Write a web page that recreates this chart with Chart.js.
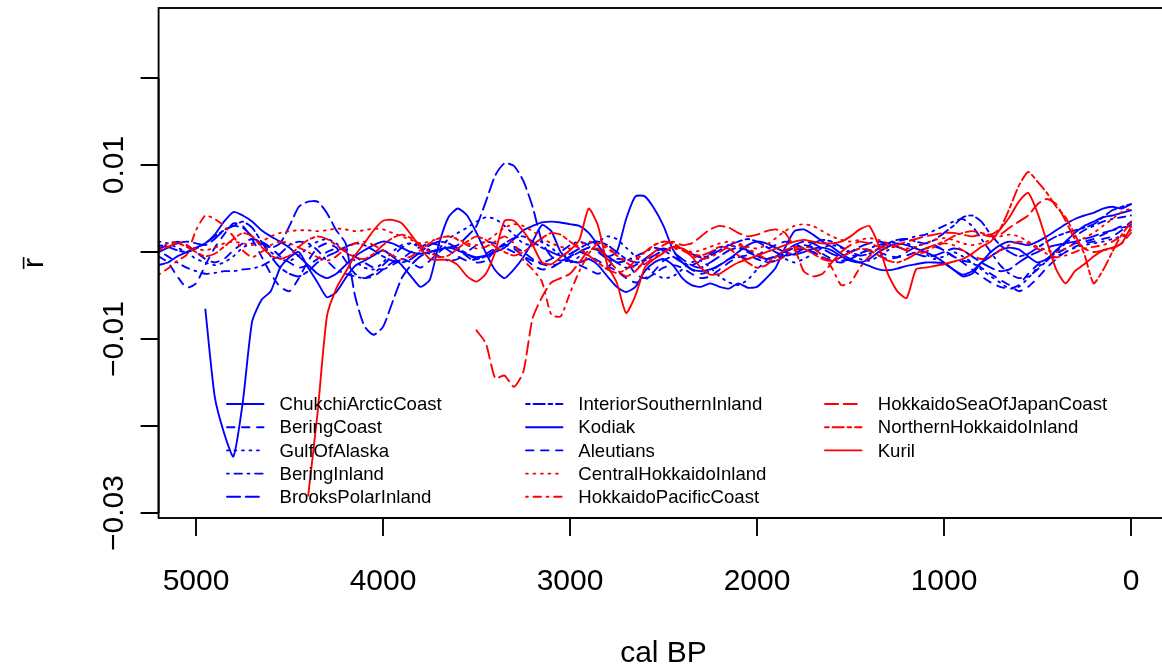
<!DOCTYPE html>
<html><head><meta charset="utf-8">
<script src="https://cdn.jsdelivr.net/npm/chart.js@4.4.1/dist/chart.umd.min.js"></script>
<style>
html,body{margin:0;padding:0;background:#fff;overflow:hidden;width:1162px;height:670px;}
#wrap{position:relative;width:1180px;height:670px;}
canvas{display:block;}
</style></head><body>
<div id="wrap"><canvas id="c" width="1180" height="670"></canvas></div>
<script>
// ---------------- data ----------------
const years = [5200,5150,5100,5050,5000,4950,4900,4850,4800,4750,
4700,4650,4600,4550,4500,4450,4400,4350,4300,4250,
4200,4150,4100,4050,4000,3950,3900,3850,3800,3750,
3700,3650,3600,3550,3500,3450,3400,3350,3300,3250,
3200,3150,3100,3050,3000,2950,2900,2850,2800,2750,
2700,2650,2600,2550,2500,2450,2400,2350,2300,2250,
2200,2150,2100,2050,2000,1950,1900,1850,1800,1750,
1700,1650,1600,1550,1500,1450,1400,1350,1300,1250,
1200,1150,1100,1050,1000,950,900,850,800,750,
700,650,600,550,500,450,400,350,300,250,
200,150,100,50,0];

const seriesNames = ['ChukchiArcticCoast','BeringCoast','GulfOfAlaska','BeringInland','BrooksPolarInland',
  'InteriorSouthernInland','Kodiak','Aleutians','CentralHokkaidoInland','HokkaidoPacificCoast',
  'HokkaidoSeaOfJapanCoast','NorthernHokkaidoInland','Kuril'];
const seriesColors = ['#0000FF','#0000FF','#0000FF','#0000FF','#0000FF','#0000FF','#0000FF','#0000FF',
  '#FF0000','#FF0000','#FF0000','#FF0000','#FF0000'];
const seriesLty = ['solid','dashed','dotted','dotdash','longdash','twodash','solid','dashed','dotted','dotdash','longdash','twodash','solid'];

const chukchiArcticCoast = [null,null,null,null,null,-0.0066,-0.0166,-0.0208,-0.0235,-0.0173,
-0.0080,-0.0055,-0.0045,-0.0018,-0.0006,0.0000,-0.0018,-0.0035,-0.0052,-0.0046,
-0.0030,-0.0016,-0.0010,-0.0004,0.0002,-0.0005,-0.0015,-0.0028,-0.0040,-0.0032,
0.0010,0.0040,0.0050,0.0042,0.0022,-0.0001,-0.0021,-0.0030,-0.0020,-0.0006,
0.0012,0.0031,0.0024,0.0000,-0.0010,-0.0012,-0.0008,-0.0015,-0.0028,-0.0040,
-0.0046,-0.0040,-0.0022,-0.0012,-0.0008,-0.0015,-0.0030,-0.0038,-0.0040,-0.0036,
-0.0040,-0.0042,-0.0036,-0.0041,-0.0040,-0.0030,-0.0018,0.0005,0.0024,0.0026,
0.0020,0.0012,0.0006,-0.0002,-0.0008,-0.0012,-0.0016,-0.0020,-0.0021,-0.0019,
-0.0016,-0.0014,-0.0012,-0.0012,-0.0013,-0.0020,-0.0026,-0.0022,-0.0012,-0.0005,
0.0002,0.0005,0.0003,-0.0005,-0.0012,-0.0008,0.0002,0.0012,0.0022,0.0030,
0.0035,0.0040,0.0042,0.0045,0.0048];

const beringCoast = [-0.0005,-0.0012,-0.0028,-0.0041,-0.0036,-0.0015,0.0005,0.0020,0.0033,0.0030,
0.0015,-0.0005,-0.0025,-0.0040,-0.0045,-0.0030,-0.0010,0.0005,0.0010,0.0005,
-0.0010,-0.0025,-0.0030,-0.0028,-0.0020,-0.0012,-0.0008,-0.0012,-0.0018,-0.0010,
0.0000,0.0008,0.0004,-0.0005,-0.0012,-0.0010,0.0002,0.0008,0.0004,-0.0005,
-0.0015,-0.0020,-0.0018,-0.0012,-0.0010,-0.0015,-0.0020,-0.0025,-0.0018,-0.0008,
-0.0010,-0.0025,-0.0030,-0.0022,-0.0010,-0.0005,-0.0012,-0.0020,-0.0025,-0.0022,
-0.0015,-0.0008,-0.0005,-0.0008,-0.0004,0.0003,0.0008,0.0012,0.0010,0.0004,
0.0000,-0.0006,-0.0010,-0.0006,0.0000,0.0004,0.0002,-0.0004,-0.0008,-0.0006,
0.0000,0.0006,0.0010,0.0008,0.0002,-0.0005,-0.0012,-0.0020,-0.0028,-0.0035,
-0.0040,-0.0042,-0.0038,-0.0025,-0.0015,-0.0008,-0.0002,0.0004,0.0010,0.0012,
0.0015,0.0020,0.0025,0.0030,0.0032];

const gulfOfAlaska = [0.0012,0.0010,0.0005,0.0000,-0.0008,-0.0012,-0.0015,-0.0012,-0.0005,0.0005,
0.0010,0.0008,0.0000,-0.0008,-0.0010,-0.0004,0.0005,0.0012,0.0015,0.0010,
0.0000,-0.0010,-0.0018,-0.0020,-0.0012,0.0000,0.0008,0.0010,0.0005,-0.0002,
0.0004,0.0015,0.0022,0.0028,0.0035,0.0040,0.0038,0.0030,0.0020,0.0010,
0.0008,0.0012,0.0005,-0.0005,-0.0012,-0.0005,0.0005,0.0012,0.0018,0.0015,
0.0005,-0.0005,-0.0015,-0.0025,-0.0030,-0.0028,-0.0020,-0.0012,-0.0010,-0.0018,
-0.0028,-0.0035,-0.0038,-0.0032,-0.0020,-0.0010,-0.0005,-0.0008,-0.0012,-0.0008,
-0.0002,0.0005,0.0008,0.0005,-0.0002,-0.0008,-0.0010,-0.0005,0.0002,0.0008,
0.0010,0.0005,-0.0002,-0.0008,-0.0005,0.0000,-0.0005,-0.0012,-0.0020,-0.0028,
-0.0035,-0.0042,-0.0040,-0.0030,-0.0018,-0.0010,-0.0005,0.0000,0.0005,0.0008,
0.0010,0.0012,0.0015,0.0018,0.0020];

const beringInland = [0.0002,-0.0005,-0.0012,-0.0018,-0.0022,-0.0025,-0.0024,-0.0022,-0.0022,-0.0020,
-0.0019,-0.0016,-0.0010,-0.0002,0.0008,0.0012,0.0010,0.0002,-0.0010,-0.0020,
-0.0025,-0.0028,-0.0030,-0.0025,-0.0015,-0.0005,0.0005,0.0010,0.0008,0.0002,
-0.0005,-0.0010,-0.0008,0.0000,0.0008,0.0012,0.0010,0.0005,0.0000,-0.0005,
-0.0010,-0.0012,-0.0008,0.0000,0.0008,0.0012,0.0008,0.0000,-0.0008,-0.0012,
-0.0010,-0.0005,0.0000,0.0005,0.0002,-0.0005,-0.0012,-0.0015,-0.0010,-0.0002,
0.0005,0.0008,0.0005,0.0000,-0.0005,-0.0008,-0.0005,0.0000,0.0005,0.0008,
0.0005,-0.0002,-0.0008,-0.0010,-0.0008,-0.0002,0.0004,0.0008,0.0010,0.0012,
0.0015,0.0018,0.0020,0.0025,0.0030,0.0035,0.0038,0.0030,0.0015,0.0000,
-0.0015,-0.0025,-0.0030,-0.0028,-0.0020,-0.0010,0.0000,0.0010,0.0018,0.0025,
0.0030,0.0035,0.0038,0.0040,0.0042];

const brooksPolarInland = [0.0000,0.0005,0.0010,0.0012,0.0010,0.0008,0.0015,0.0025,0.0030,0.0028,
0.0018,0.0010,0.0005,0.0010,0.0030,0.0052,0.0058,0.0058,0.0045,0.0025,
0.0010,-0.0050,-0.0085,-0.0095,-0.0086,-0.0058,-0.0030,-0.0015,-0.0005,0.0000,
0.0003,0.0005,0.0008,0.0018,0.0030,0.0058,0.0088,0.0102,0.0099,0.0082,
0.0052,0.0012,-0.0005,-0.0010,-0.0006,0.0000,0.0005,0.0002,-0.0005,-0.0012,
-0.0018,-0.0015,-0.0008,0.0000,0.0004,0.0000,-0.0008,-0.0015,-0.0018,-0.0012,
-0.0005,0.0002,0.0005,0.0002,-0.0004,-0.0008,-0.0005,0.0002,0.0008,0.0012,
0.0010,0.0004,-0.0002,-0.0005,0.0000,0.0006,0.0010,0.0012,0.0010,0.0006,
0.0002,-0.0002,-0.0005,-0.0004,0.0000,0.0004,0.0002,-0.0005,-0.0012,-0.0018,
-0.0022,-0.0020,-0.0012,-0.0005,0.0000,0.0005,0.0008,0.0010,0.0012,0.0015,
0.0018,0.0022,0.0025,0.0028,0.0030];

const interiorSouthernInland = [0.0008,0.0006,0.0002,0.0000,0.0004,0.0010,0.0018,0.0025,0.0030,0.0035,
0.0028,0.0012,-0.0005,-0.0018,-0.0025,-0.0028,-0.0022,-0.0012,-0.0005,0.0000,
0.0006,0.0010,0.0008,0.0002,-0.0005,-0.0010,-0.0012,-0.0008,0.0000,0.0008,
0.0012,0.0010,0.0004,-0.0002,-0.0008,-0.0005,0.0002,0.0010,0.0016,0.0018,
0.0012,0.0005,0.0000,-0.0004,-0.0002,0.0004,0.0010,0.0012,0.0008,0.0000,
-0.0008,-0.0012,-0.0010,-0.0004,0.0002,0.0006,0.0004,-0.0002,-0.0006,-0.0004,
0.0002,0.0008,0.0012,0.0015,0.0012,0.0006,0.0000,-0.0004,-0.0002,0.0004,
0.0010,0.0014,0.0012,0.0006,0.0000,-0.0004,-0.0002,0.0004,0.0010,0.0014,
0.0015,0.0012,0.0010,0.0014,0.0022,0.0030,0.0040,0.0042,0.0035,0.0020,
0.0008,0.0000,-0.0005,-0.0002,0.0005,0.0012,0.0018,0.0022,0.0025,0.0028,
0.0032,0.0040,0.0048,0.0052,0.0055];

const kodiak = [-0.0015,-0.0012,-0.0005,0.0000,0.0005,0.0010,0.0020,0.0035,0.0046,0.0042,
0.0035,0.0025,0.0018,0.0012,0.0005,-0.0005,-0.0015,-0.0025,-0.0030,-0.0025,
-0.0015,-0.0005,0.0002,0.0008,0.0012,0.0010,0.0005,0.0000,-0.0002,0.0000,
0.0003,0.0005,0.0002,-0.0003,-0.0006,-0.0004,0.0000,0.0005,0.0015,0.0025,
0.0030,0.0034,0.0035,0.0034,0.0032,0.0030,0.0022,0.0008,-0.0005,0.0000,
0.0038,0.0064,0.0064,0.0050,0.0030,0.0003,-0.0012,-0.0020,-0.0022,-0.0020,
-0.0015,-0.0008,0.0000,0.0008,0.0012,0.0010,0.0005,0.0000,-0.0003,0.0000,
0.0004,0.0005,0.0002,-0.0005,-0.0010,-0.0012,-0.0008,0.0000,0.0006,0.0010,
0.0008,0.0004,0.0000,-0.0005,-0.0012,-0.0020,-0.0028,-0.0025,-0.0012,0.0000,
0.0008,0.0012,0.0010,0.0008,0.0012,0.0018,0.0025,0.0032,0.0038,0.0042,
0.0045,0.0050,0.0052,0.0050,0.0055];

const aleutians = [0.0004,0.0008,0.0012,0.0008,0.0000,-0.0008,-0.0012,-0.0008,0.0002,0.0010,
0.0015,0.0012,0.0005,-0.0005,-0.0012,-0.0018,-0.0015,-0.0008,0.0000,0.0004,
0.0002,-0.0005,-0.0012,-0.0018,-0.0020,-0.0015,-0.0008,0.0000,0.0006,0.0010,
0.0008,0.0002,-0.0005,-0.0010,-0.0008,-0.0002,0.0004,0.0008,0.0006,0.0000,
-0.0008,-0.0014,-0.0016,-0.0012,-0.0005,0.0000,-0.0004,-0.0010,-0.0016,-0.0022,
-0.0030,-0.0035,-0.0032,-0.0025,-0.0018,-0.0015,-0.0018,-0.0025,-0.0030,-0.0028,
-0.0020,-0.0012,-0.0006,-0.0004,-0.0008,-0.0012,-0.0010,-0.0004,0.0002,0.0004,
0.0000,-0.0006,-0.0010,-0.0012,-0.0008,-0.0002,0.0002,0.0000,-0.0004,-0.0006,
-0.0004,0.0000,0.0004,0.0006,0.0002,-0.0005,-0.0010,-0.0012,-0.0018,-0.0025,
-0.0032,-0.0038,-0.0045,-0.0040,-0.0030,-0.0018,-0.0008,0.0000,0.0006,0.0010,
0.0012,0.0015,0.0018,0.0025,0.0035];

const centralHokkaidoInland = [0.0005,0.0010,0.0012,0.0008,0.0004,0.0002,0.0005,0.0010,0.0012,0.0010,
0.0008,0.0012,0.0018,0.0022,0.0024,0.0025,0.0025,0.0024,0.0025,0.0027,
0.0026,0.0024,0.0025,0.0027,0.0026,0.0022,0.0018,0.0014,0.0010,0.0012,
0.0016,0.0018,0.0015,0.0010,0.0008,0.0012,0.0020,0.0028,0.0032,0.0030,
0.0024,0.0016,0.0010,0.0006,0.0004,0.0008,0.0012,0.0010,0.0004,-0.0004,
-0.0010,-0.0008,0.0000,0.0008,0.0012,0.0010,0.0004,0.0000,0.0002,0.0006,
0.0010,0.0012,0.0010,0.0006,0.0004,0.0008,0.0016,0.0024,0.0030,0.0032,
0.0030,0.0024,0.0018,0.0014,0.0012,0.0014,0.0016,0.0014,0.0010,0.0006,
0.0004,0.0006,0.0010,0.0014,0.0016,0.0014,0.0010,0.0008,0.0010,0.0014,
0.0018,0.0020,0.0018,0.0012,0.0006,0.0002,0.0000,0.0004,0.0010,0.0016,
0.0022,0.0030,0.0038,0.0046,0.0050];

const hokkaidoPacificCoast = [-0.0026,-0.0019,-0.0010,-0.0003,0.0025,0.0042,0.0038,0.0030,0.0018,0.0002,
-0.0006,0.0000,0.0008,0.0012,0.0010,0.0005,0.0000,-0.0006,-0.0010,-0.0005,
0.0004,0.0010,0.0012,0.0008,0.0002,-0.0004,-0.0008,-0.0005,0.0002,0.0010,
0.0016,0.0018,0.0014,0.0008,0.0004,0.0006,0.0012,0.0018,0.0010,-0.0009,
-0.0020,-0.0034,-0.0072,-0.0074,-0.0047,-0.0022,-0.0002,0.0010,0.0006,-0.0004,
-0.0012,-0.0018,-0.0014,-0.0006,0.0000,0.0004,0.0002,-0.0004,-0.0008,-0.0006,
0.0000,0.0006,0.0008,0.0004,-0.0002,-0.0008,-0.0010,-0.0005,0.0002,0.0006,
0.0004,-0.0004,-0.0018,-0.0038,-0.0035,-0.0018,-0.0005,0.0004,0.0008,0.0006,
0.0002,-0.0002,0.0000,0.0006,0.0010,0.0008,0.0002,-0.0004,-0.0008,-0.0005,
0.0002,0.0008,0.0012,0.0010,0.0004,-0.0002,-0.0006,-0.0004,0.0000,0.0004,
0.0006,0.0008,0.0012,0.0018,0.0025];

const hokkaidoSeaOfJapanCoast = [null,null,null,null,null,null,null,null,null,null,
null,null,null,null,null,null,null,null,null,null,
null,null,null,null,null,null,null,null,null,null,
null,null,null,null,-0.0090,-0.0105,-0.0145,-0.0142,-0.0155,-0.0138,
-0.0076,-0.0052,-0.0035,-0.0030,-0.0025,-0.0012,0.0002,0.0004,-0.0008,-0.0020,
-0.0028,-0.0022,-0.0010,0.0000,0.0008,0.0012,0.0008,0.0010,0.0018,0.0026,
0.0030,0.0028,0.0022,0.0018,0.0020,0.0024,0.0026,0.0022,0.0005,-0.0022,
-0.0028,-0.0025,-0.0012,0.0000,0.0008,0.0012,0.0010,0.0006,0.0004,0.0008,
0.0012,0.0015,0.0018,0.0020,0.0022,0.0022,0.0020,0.0018,0.0020,0.0018,
0.0020,0.0028,0.0035,0.0042,0.0055,0.0061,0.0055,0.0036,0.0015,0.0004,
0.0000,0.0002,0.0004,0.0010,0.0022];

const northernHokkaidoInland = [0.0002,0.0006,0.0010,0.0006,0.0000,-0.0005,-0.0002,0.0006,0.0015,0.0022,
0.0018,0.0006,-0.0004,-0.0008,-0.0004,0.0006,0.0014,0.0018,0.0015,0.0008,
0.0000,-0.0006,-0.0008,-0.0002,0.0008,0.0016,0.0020,0.0016,0.0008,0.0000,
-0.0006,-0.0004,0.0004,0.0012,0.0018,0.0014,0.0006,0.0000,-0.0004,0.0000,
0.0008,0.0016,0.0022,0.0020,0.0012,0.0004,-0.0004,-0.0012,-0.0020,-0.0024,
-0.0020,-0.0010,0.0000,0.0008,0.0012,0.0010,0.0004,-0.0002,-0.0004,0.0000,
0.0006,0.0004,-0.0004,-0.0012,-0.0018,-0.0015,-0.0006,0.0002,0.0006,0.0004,
-0.0002,-0.0008,-0.0010,-0.0006,0.0000,0.0004,0.0002,-0.0004,-0.0010,-0.0012,
-0.0008,-0.0002,0.0004,0.0008,0.0012,0.0018,0.0022,0.0024,0.0022,0.0020,
0.0027,0.0050,0.0076,0.0092,0.0081,0.0068,0.0052,0.0040,0.0020,-0.0002,
-0.0036,-0.0021,0.0000,0.0020,0.0034];

const kuril = [null,null,null,null,null,null,null,null,null,null,
null,null,null,null,null,null,-0.0280,-0.0185,-0.0074,-0.0042,
-0.0023,-0.0004,0.0010,0.0025,0.0036,0.0037,0.0033,0.0020,0.0005,-0.0008,
-0.0009,-0.0009,-0.0015,-0.0028,-0.0034,-0.0025,0.0000,0.0036,0.0036,0.0024,
0.0008,-0.0012,-0.0014,-0.0006,0.0002,0.0014,0.0050,0.0030,-0.0015,-0.0035,
-0.0070,-0.0050,-0.0018,-0.0008,-0.0001,0.0006,0.0004,-0.0005,-0.0018,-0.0026,
-0.0025,-0.0018,-0.0012,-0.0008,-0.0004,0.0000,0.0004,0.0008,0.0012,0.0014,
0.0012,0.0010,0.0010,0.0012,0.0018,0.0026,0.0030,0.0008,-0.0025,-0.0045,
-0.0053,-0.0020,-0.0018,-0.0016,-0.0014,-0.0011,-0.0008,-0.0002,0.0006,0.0012,
0.0026,0.0040,0.0058,0.0068,0.0045,0.0012,-0.0020,-0.0036,-0.0022,-0.0014,
-0.0005,0.0002,0.0005,0.0010,0.0029];

const seriesValues = [chukchiArcticCoast, beringCoast, gulfOfAlaska, beringInland, brooksPolarInland,
  interiorSouthernInland, kodiak, aleutians, centralHokkaidoInland, hokkaidoPacificCoast,
  hokkaidoSeaOfJapanCoast, northernHokkaidoInland, kuril];

const xTickValues = [5000,4000,3000,2000,1000,0];
const xTickLabels = ['5000','4000','3000','2000','1000','0'];
const yTickValues = [-0.03,-0.02,-0.01,0,0.01,0.02];
const yTickLabels = ['\u22120.03','','\u22120.01','','0.01',''];

// ---------------- styling ----------------
const LW = 1.875;
const dashFor = {
  solid: [], dashed: [4*LW,4*LW], dotted: [1*LW,3*LW], dotdash: [1*LW,3*LW,4*LW,3*LW],
  longdash: [7*LW,3*LW], twodash: [2*LW,2*LW,6*LW,2*LW]
};
const FONT = '"Liberation Sans", Arial, Helvetica, sans-serif';

const datasets = seriesNames.map((name, i) => ({
  label: name,
  data: years.map((yr, k) => ({x: yr, y: seriesValues[i][k]})),
  borderColor: seriesColors[i],
  backgroundColor: seriesColors[i],
  borderWidth: LW,
  borderDash: dashFor[seriesLty[i]],
  borderCapStyle: 'round',
  borderJoinStyle: 'round',
  pointRadius: 0,
  tension: 0.2,
  spanGaps: false,
  fill: false,
  order: seriesNames.length - i
}));

const rStyle = {
  id: 'rStyle',
  afterDraw(chart) {
    const ctx = chart.ctx, a = chart.chartArea, xs = chart.scales.x, ys = chart.scales.y;
    ctx.save();
    ctx.setLineDash([]);
    ctx.strokeStyle = '#000';
    ctx.fillStyle = '#000';
    ctx.lineWidth = LW;
    ctx.lineCap = 'butt';
    // box
    ctx.strokeRect(a.left, a.top, a.right - a.left, a.bottom - a.top);
    const lineH = 36;
    // x axis
    ctx.beginPath();
    ctx.moveTo(xs.getPixelForValue(xTickValues[0]), a.bottom);
    ctx.lineTo(xs.getPixelForValue(xTickValues[xTickValues.length-1]), a.bottom);
    xTickValues.forEach(v => {
      const px = xs.getPixelForValue(v);
      ctx.moveTo(px, a.bottom); ctx.lineTo(px, a.bottom + 18);
    });
    ctx.stroke();
    ctx.font = '30px ' + FONT;
    ctx.textAlign = 'center';
    ctx.textBaseline = 'alphabetic';
    xTickValues.forEach((v, i) => {
      ctx.fillText(xTickLabels[i], xs.getPixelForValue(v), a.bottom + 2*lineH);
    });
    ctx.fillText('cal BP', (a.left + a.right) / 2, a.bottom + 4*lineH);
    // y axis
    ctx.beginPath();
    ctx.moveTo(a.left, ys.getPixelForValue(yTickValues[0]));
    ctx.lineTo(a.left, ys.getPixelForValue(yTickValues[yTickValues.length-1]));
    yTickValues.forEach(v => {
      const py = ys.getPixelForValue(v);
      ctx.moveTo(a.left, py); ctx.lineTo(a.left - 18, py);
    });
    ctx.stroke();
    yTickValues.forEach((v, i) => {
      if (!yTickLabels[i]) return;
      ctx.save();
      ctx.translate(a.left - lineH, ys.getPixelForValue(v));
      ctx.rotate(-Math.PI/2);
      ctx.fillText(yTickLabels[i], 0, 0);
      ctx.restore();
    });
    // y title: r with bar
    ctx.save();
    ctx.translate(a.left - 3*lineH - 8, (a.top + a.bottom) / 2);
    ctx.rotate(-Math.PI/2);
    ctx.textAlign = 'center';
    ctx.fillText('r', 0, 0);
    const w = ctx.measureText('r').width;
    ctx.beginPath();
    ctx.lineWidth = 1.6;
    ctx.moveTo(-w/2 - 1, -19); ctx.lineTo(w/2 + 1, -19);
    ctx.stroke();
    ctx.restore();
    // legend
    ctx.font = '18.6px ' + FONT;
    ctx.textAlign = 'left';
    ctx.textBaseline = 'middle';
    const colLine = [227, 526, 825], colText = [279.5, 578.3, 877.7];
    seriesNames.forEach((name, i) => {
      const col = Math.floor(i / 5), row = i % 5;
      const y = 404 + row * 23.2;
      ctx.strokeStyle = seriesColors[i];
      ctx.lineWidth = LW;
      ctx.lineCap = 'round';
      ctx.setLineDash(dashFor[seriesLty[i]]);
      ctx.beginPath();
      ctx.moveTo(colLine[col], y); ctx.lineTo(colLine[col] + 36.5, y);
      ctx.stroke();
      ctx.setLineDash([]);
      ctx.fillStyle = '#000';
      ctx.fillText(name, colText[col], y + 1);
    });
    ctx.restore();
  }
};

new Chart(document.getElementById('c'), {
  type: 'line',
  data: { datasets },
  options: {
    responsive: false,
    animation: false,
    devicePixelRatio: 1,
    parsing: true,
    layout: { padding: { left: 158.6, right: 11.6, top: 8, bottom: 152 } },
    scales: {
      x: { type: 'linear', min: -200, max: 5200, reverse: true, display: false },
      y: { type: 'linear', min: -0.03057, max: 0.02805, display: false }
    },
    plugins: { legend: { display: false }, tooltip: { enabled: false } }
  },
  plugins: [rStyle]
});
</script></body></html>
